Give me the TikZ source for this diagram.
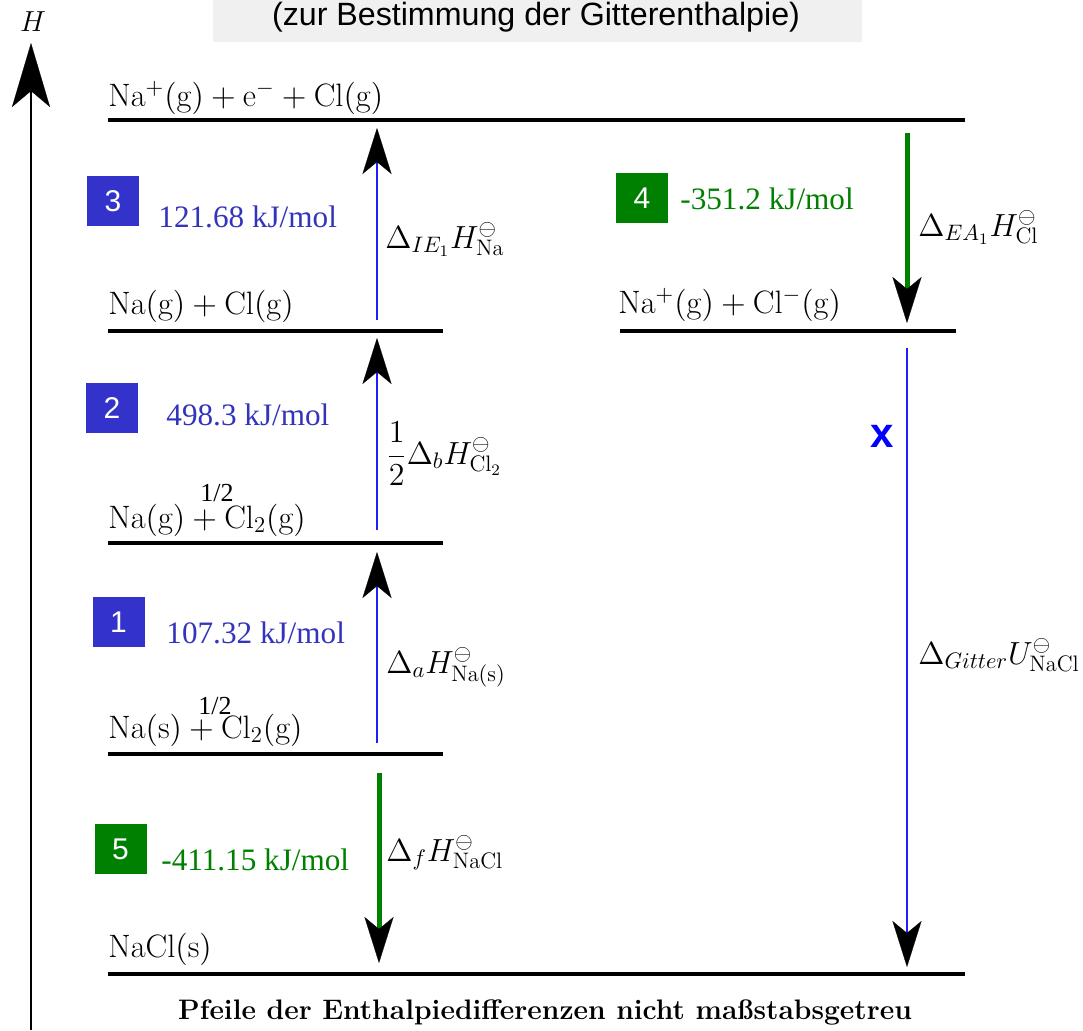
\RequirePackage{fix-cm}
\documentclass[tikz,border=0pt]{standalone}
\usepackage{fontspec}
\newfontfamily\sansf{Liberation Sans}
\newfontfamily\serff{Liberation Serif}
\usetikzlibrary{arrows.meta}
\definecolor{bbox}{HTML}{3333CC}
\definecolor{btext}{HTML}{3333BB}
\definecolor{bline}{HTML}{1E1EFF}
\definecolor{gg}{HTML}{008000}
\definecolor{titlebg}{HTML}{F0F0F0}
\begin{document}
\begin{tikzpicture}[x=0.5pt,y=-0.5pt,
  lvl/.style={line width=1.8pt},
  chem/.style={anchor=base west,inner sep=0,font=\fontsize{16.2}{19}\selectfont},
  dlab/.style={anchor=base west,inner sep=0,font=\fontsize{16}{19}\selectfont},
  val/.style={anchor=base west,inner sep=0,font=\serff\fontsize{15.6}{18}\selectfont},
  half/.style={anchor=base west,inner sep=0,font=\serff\fontsize{13}{15}\selectfont},
  badge/.style={minimum width=26pt,minimum height=25pt,inner sep=0,text=white,font=\sansf\fontsize{15}{18}\selectfont},
  hd/.style={-{Stealth[length=23pt,width=14.5pt,inset=6pt,color=black,line width=0.1pt]}},
  upar/.style={hd,bline,line width=1.3pt},
  gdn/.style={hd,gg,line width=2.5pt},
  bdn/.style={hd,bline,line width=1.3pt}
]
\useasboundingbox (0,0) rectangle (1083,1030);

% title
\node[fill=titlebg,minimum width=324.5pt,minimum height=21pt,inner sep=0,anchor=north west] (tbox) at (213,0) {};
\node[anchor=base,inner sep=0,font=\sansf\fontsize{16.1}{19}\selectfont] (title) at (536,25) {(zur Bestimmung der Gitterenthalpie)};

% axis
\coordinate (axb) at (31,1030);
\coordinate (axt) at (31,43);
\draw[line width=1.2pt,-{Stealth[length=32pt,width=19pt,inset=8pt,line width=0.1pt]}] (axb) -- (axt);
\node[inner sep=0,font=\fontsize{14.5}{17}\selectfont] (hlab) at (33,22) {$H$};

% levels
\coordinate (l5a) at (108,120); \coordinate (l5b) at (965,120);
\coordinate (l4a) at (108,331); \coordinate (l4b) at (443,331);
\coordinate (l4c) at (620,331); \coordinate (l4d) at (956,331);
\coordinate (l3a) at (108,543); \coordinate (l3b) at (443,543);
\coordinate (l2a) at (108,754); \coordinate (l2b) at (443,754);
\coordinate (l1a) at (108,974); \coordinate (l1b) at (965,974);
\draw[lvl] (l5a) -- (l5b);
\draw[lvl] (l4a) -- (l4b);
\draw[lvl] (l4c) -- (l4d);
\draw[lvl] (l3a) -- (l3b);
\draw[lvl] (l2a) -- (l2b);
\draw[lvl,line width=2pt] (l1a) -- (l1b);

% species labels
\node[chem] (s5) at (108,106) {$\mathrm{Na^{+}(g)} + \mathrm{e^{-}} + \mathrm{Cl(g)}$};
\node[chem] (s4) at (108,314) {$\mathrm{Na(g)} + \mathrm{Cl(g)}$};
\node[chem] (s4r) at (618,313) {$\mathrm{Na^{+}(g)} + \mathrm{Cl^{-}(g)}$};
\node[chem] (s3) at (108,528) {$\mathrm{Na(g)} + \mathrm{Cl_2(g)}$};
\node[chem] (s2) at (108,738) {$\mathrm{Na(s)} + \mathrm{Cl_2(g)}$};
\node[chem] (s1) at (108,957) {$\mathrm{NaCl(s)}$};
\node[half] (h3) at (200,501) {1/2};
\node[half] (h2) at (198,714) {1/2};

% arrows
\coordinate (a1) at (377,320); \coordinate (a2) at (377,128);
\coordinate (b1) at (377,530); \coordinate (b2) at (377,338);
\coordinate (c1) at (377,743); \coordinate (c2) at (377,552);
\coordinate (d1) at (379,773); \coordinate (d2) at (379,963);
\coordinate (e1) at (907,133); \coordinate (e2) at (907,323);
\coordinate (f1) at (907,348); \coordinate (f2) at (907,967);
\draw[upar] (a1) -- (a2);
\draw[upar] (b1) -- (b2);
\draw[upar] (c1) -- (c2);
\draw[gdn] (d1) -- (d2);
\draw[gdn] (e1) -- (e2);
\draw[bdn] (f1) -- (f2);

% arrow labels
\node[dlab] (dIE) at (385,248) {$\Delta_{IE_1}H^{\ominus}_{\mathrm{Na}}$};
\node[dlab] (db) at (386,464) {$\displaystyle\frac{1}{2}\Delta_b H^{\ominus}_{\mathrm{Cl_2}}$};
\node[dlab] (da) at (386,673) {$\Delta_a H^{\ominus}_{\mathrm{Na(s)}}$};
\node[dlab] (df) at (386,861) {$\Delta_f H^{\ominus}_{\mathrm{NaCl}}$};
\node[dlab] (dEA) at (918,236) {$\Delta_{EA_1}H^{\ominus}_{\mathrm{Cl}}$};
\node[dlab] (dU) at (918,664) {$\Delta_{Gitter}U^{\ominus}_{\mathrm{NaCl}}$};
\node[inner sep=0,text=blue,font=\sansf\bfseries\fontsize{21}{24}\selectfont] (xlab) at (882,436) {x};

% badges and values
\node[badge,fill=bbox] (b3) at (113,201) {3};
\node[val,text=btext] (v3) at (158,227) {121.68 kJ/mol};
\node[badge,fill=bbox] (b2) at (112,408) {2};
\node[val,text=btext] (v2) at (166,425) {498.3 kJ/mol};
\node[badge,fill=bbox] (b1) at (118.5,622) {1};
\node[val,text=btext] (v1) at (166,643) {107.32 kJ/mol};
\node[badge,fill=gg] (b4) at (642,198) {4};
\node[val,text=gg] (v4) at (680,209) {-351.2 kJ/mol};
\node[badge,fill=gg] (b5) at (120.5,849) {5};
\node[val,text=gg] (v5) at (161,870) {-411.15 kJ/mol};

% footer
\node[anchor=base,inner sep=0,font=\bfseries\fontsize{14.1}{17}\selectfont] (foot) at (545,1019) {Pfeile der Enthalpiedifferenzen nicht maßstabsgetreu};
\end{tikzpicture}
\end{document}
